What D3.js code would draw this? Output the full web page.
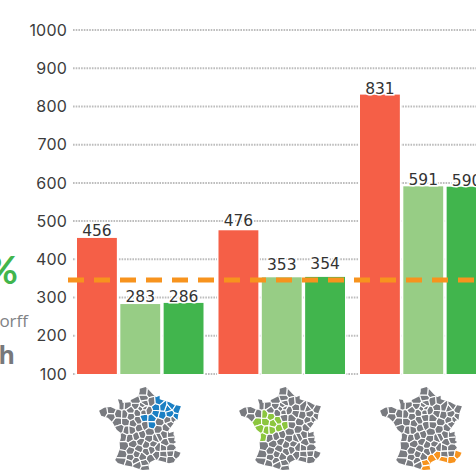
<!DOCTYPE html>
<html>
<head>
<meta charset="utf-8">
<script src="https://cdn.jsdelivr.net/npm/d3@7"></script>
<style>
  html, body { margin: 0; padding: 0; background: #fff; overflow: hidden; }
  svg { display: block; }
</style>
</head>
<body>
<svg id="chart" width="476" height="470"></svg>
<script>
// Bar values for each territory group
const groups = ["nord-est", "centre-ouest", "méditerranée"];
const seriesNames = ["a", "b", "c"];
const seriesA = [456, 476, 831];
const seriesB = [283, 353, 591];
const seriesC = [286, 354, 590];
const referenceLine = 346;
const tickValues = [100, 200, 300, 400, 500, 600, 700, 800, 900, 1000];
const seriesColors = ["#f55f47", "#97cd85", "#41b54d"];

// Metropolitan France outline, lon/lat
const franceOutline = [
  [2.55,51.08],[3.1,50.78],[3.7,50.35],[4.25,50.0],[4.85,50.15],[4.85,49.8],[5.8,49.55],[6.4,49.45],
  [7.1,49.15],[8.2,48.97],[7.75,48.3],[7.55,47.6],[7.0,47.45],[6.95,47.25],[6.45,46.85],[6.1,46.55],
  [6.1,46.2],[6.85,46.35],[6.8,46.0],[7.0,45.85],[6.85,45.4],[7.15,45.25],[6.65,45.05],[7.05,44.7],
  [6.9,44.35],[7.7,44.1],[7.45,43.75],[6.9,43.45],[6.65,43.15],[5.95,43.08],[5.3,43.25],[4.6,43.38],
  [4.0,43.5],[3.3,43.25],[3.0,42.9],[3.15,42.45],[2.2,42.4],[1.75,42.5],[0.7,42.75],[-0.3,42.85],
  [-1.35,43.05],[-1.75,43.35],[-1.4,43.95],[-1.15,44.6],[-1.25,45.2],[-1.1,45.7],[-1.15,46.2],
  [-1.8,46.5],[-2.15,46.9],[-2.55,47.3],[-3.3,47.7],[-4.35,47.85],[-4.75,48.35],[-4.0,48.7],
  [-3.0,48.85],[-2.1,48.63],[-1.55,48.65],[-1.6,49.2],[-1.9,49.7],[-1.25,49.65],[-1.1,49.35],
  [0.1,49.45],[0.2,49.7],[1.4,50.1],[1.6,50.6],[1.6,50.9]
];

// Department centres, lon/lat, keyed by code
const departments = {
  "01":[5.35,46.1],"02":[3.55,49.55],"03":[3.2,46.4],"04":[6.25,44.1],"05":[6.25,44.65],"06":[7.1,43.95],
  "07":[4.4,44.75],"08":[4.65,49.6],"09":[1.5,42.95],"10":[4.15,48.3],"11":[2.4,43.1],"12":[2.7,44.3],
  "13":[5.1,43.55],"14":[-0.4,49.1],"15":[2.65,45.05],"16":[0.2,45.7],"17":[-0.75,45.8],"18":[2.5,47.05],
  "19":[1.85,45.35],"21":[4.75,47.4],"22":[-2.85,48.45],"23":[2.0,46.1],"24":[0.75,45.1],"25":[6.35,47.15],
  "26":[5.15,44.7],"27":[1.0,49.1],"28":[1.35,48.4],"29":[-4.05,48.25],"30":[4.15,44.0],"31":[1.2,43.35],
  "32":[0.45,43.7],"33":[-0.6,44.85],"34":[3.35,43.6],"35":[-1.65,48.15],"36":[1.6,46.8],"37":[0.7,47.25],
  "38":[5.55,45.25],"39":[5.7,46.75],"40":[-0.75,43.95],"41":[1.4,47.6],"42":[4.15,45.7],"43":[3.8,45.1],
  "44":[-1.7,47.35],"45":[2.35,47.9],"46":[1.6,44.6],"47":[0.45,44.35],"48":[3.5,44.5],"49":[-0.55,47.4],
  "50":[-1.3,49.1],"51":[4.25,48.95],"52":[5.2,48.1],"53":[-0.65,48.15],"54":[6.15,48.8],"55":[5.4,49.0],
  "56":[-2.85,47.85],"57":[6.65,49.05],"58":[3.5,47.1],"59":[3.2,50.45],"60":[2.45,49.4],"61":[0.15,48.6],
  "62":[2.3,50.5],"63":[3.15,45.7],"64":[-0.75,43.25],"65":[0.15,43.05],"66":[2.5,42.6],"67":[7.55,48.65],
  "68":[7.25,47.85],"69":[4.6,45.85],"70":[6.1,47.6],"71":[4.55,46.65],"72":[0.2,48.0],"73":[6.45,45.5],
  "74":[6.4,46.05],"75":[2.35,48.86],"76":[1.0,49.65],"77":[3.0,48.6],"78":[1.85,48.8],"79":[-0.3,46.5],
  "80":[2.3,49.95],"81":[2.15,43.8],"82":[1.3,44.05],"83":[6.25,43.45],"84":[5.2,44.0],"85":[-1.3,46.65],
  "86":[0.45,46.55],"87":[1.25,45.9],"88":[6.4,48.2],"89":[3.55,47.85],"90":[6.95,47.65],"91":[2.25,48.5],
  "95":[2.15,49.1]
};

// Departments highlighted on each small map
const highlightNordEst = ["08","51","10","52","55","54","57","67","68","88","89","58","45"];
const highlightCentreOuest = ["44","53","72","49","85","79","86","37","41","36","18","17"];
const highlightMediterranee = ["66","11","34","30","13","83","06"];
const highlightColors = ["#1b80c4", "#8cc63f", "#f7931e"];
const highlights = [highlightNordEst, highlightCentreOuest, highlightMediterranee];
const mapLeft = [99, 239, 380];

const svg = d3.select("#chart");

const y = d3.scaleLinear().domain([100, 1000]).range([374, 30]);
const xGroup = d3.scaleBand().domain(groups).range([77, 77 + 141.5 * 3]);
const xSeries = d3.scaleBand().domain(seriesNames).range([0, 126.5]).paddingInner(0.08);

// Dotted grid and value axis
const axis = d3.axisLeft(y).tickValues(tickValues).tickSize(0).tickPadding(0).tickFormat(d3.format("d"));
const axisG = svg.append("g").attr("transform", "translate(67,0)").call(axis);
axisG.select(".domain").remove();
axisG.selectAll("text")
  .attr("font-family", "Inter, sans-serif").attr("font-size", 16).attr("letter-spacing", 0.2).attr("fill", "#3c3c3c");

svg.append("g").selectAll("line").data(tickValues).join("line")
  .attr("x1", 73).attr("x2", 476)
  .attr("y1", d => y(d)).attr("y2", d => y(d))
  .attr("stroke", "#bdbdbd").attr("stroke-width", 2).attr("stroke-dasharray", "1.6 1.1");

// Grouped bars with a thin white edge
const rows = groups.map((g, i) => ({ g, values: [seriesA[i], seriesB[i], seriesC[i]] }));
const groupG = svg.append("g").selectAll("g").data(rows).join("g")
  .attr("transform", d => `translate(${xGroup(d.g)},0)`);

groupG.selectAll("rect").data(d => d.values).join("rect")
  .attr("x", (d, i) => xSeries(seriesNames[i]))
  .attr("width", xSeries.bandwidth())
  .attr("y", d => y(d))
  .attr("height", d => y(100) - y(d))
  .attr("fill", (d, i) => seriesColors[i])
  .attr("stroke", "#fff").attr("stroke-width", 3).attr("paint-order", "stroke");

// Labels sit just above their bar; a few are nudged to stay clear of the dashed level
const labelGap = new Map([[476, 4], [353, 7.5], [354, 7.5], [286, 0.5], [831, 1], [591, 1], [590, 1]]);
groupG.selectAll("text").data(d => d.values).join("text")
  .attr("x", (d, i) => xSeries(seriesNames[i]) + xSeries.bandwidth() / 2)
  .attr("y", d => y(d) - (labelGap.get(d) ?? 2.2))
  .attr("text-anchor", "middle")
  .attr("font-family", "'DejaVu Sans', sans-serif").attr("font-size", 15.5).attr("fill", "#333")
  .attr("stroke", "#fff").attr("stroke-width", 3).attr("paint-order", "stroke")
  .text(d => d);

// Dashed reference level
svg.append("line")
  .attr("x1", 68).attr("x2", 476)
  .attr("y1", y(referenceLine)).attr("y2", y(referenceLine))
  .attr("stroke", "#f7931e").attr("stroke-width", 5).attr("stroke-dasharray", "16 10");

// Text running in from the panel on the left
svg.append("text").attr("x", 18).attr("y", 284).attr("text-anchor", "end")
  .attr("font-family", "Lato, sans-serif").attr("font-weight", 700).attr("font-size", 38).attr("fill", "#41b54d").text("%");
svg.append("text").attr("x", 28).attr("y", 327).attr("text-anchor", "end")
  .attr("font-family", "'Open Sans', sans-serif").attr("font-size", 17).attr("fill", "#808285").text("orff");
svg.append("text").attr("x", 15).attr("y", 364).attr("text-anchor", "end")
  .attr("font-family", "'Open Sans', sans-serif").attr("font-weight", 700).attr("font-size", 25).attr("fill", "#77787b").text("h");

// Small department maps under each group
const codes = Object.keys(departments);
highlights.forEach((selected, i) => {
  const projection = d3.geoConicConformal().parallels([44, 49]).rotate([-3, 0]).fitExtent(
    [[mapLeft[i], 387], [mapLeft[i] + 82, 470]],
    { type: "MultiPoint", coordinates: franceOutline }
  );
  const outline = franceOutline.map(projection);
  const seats = codes.map(c => projection(departments[c]));
  const voronoi = d3.Delaunay.from(seats).voronoi([mapLeft[i] - 10, 377, mapLeft[i] + 92, 480]);
  const clipId = `france-${i}`;
  svg.append("clipPath").attr("id", clipId).append("path")
    .attr("d", d3.line()(outline) + "Z");
  svg.append("g").attr("clip-path", `url(#${clipId})`)
    .selectAll("path").data(codes).join("path")
    .attr("d", (c, k) => voronoi.renderCell(k))
    .attr("fill", c => selected.includes(c) ? highlightColors[i] : "#797b80")
    .attr("stroke", "#fff").attr("stroke-width", 1.1);
});
</script>
</body>
</html>
